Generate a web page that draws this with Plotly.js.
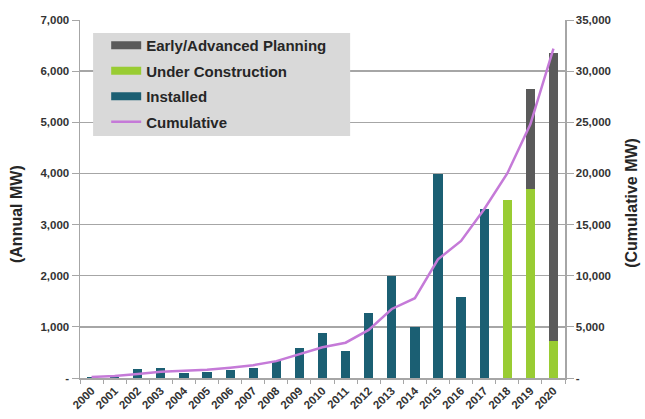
<!DOCTYPE html>
<html>
<head>
<meta charset="utf-8">
<script src="https://cdn.plot.ly/plotly-3.0.1.min.js"></script>
<style>html,body{margin:0;padding:0;background:#fff;}#chart{width:645px;height:419px;}</style>
</head>
<body>
<div id="chart"></div>
<script>
var years = ['2000','2001','2002','2003','2004','2005','2006','2007','2008','2009','2010','2011','2012','2013','2014','2015','2016','2017','2018','2019','2020'];
var installed = [25, 10, 175, 190, 105, 120, 155, 200, 330, 580, 885, 525, 1275, 2000, 990, 3990, 1590, 3310, null, null, null];
var underConstruction = [null, null, null, null, null, null, null, null, null, null, null, null, null, null, null, null, null, null, 3490, 3700, 730];
var planning = [null, null, null, null, null, null, null, null, null, null, null, null, null, null, null, null, null, null, null, 1960, 5620];
var cumulative = [100, 200, 400, 600, 700, 800, 1000, 1250, 1650, 2300, 3000, 3450, 4700, 6750, 7800, 11600, 13400, 16500, 20000, 24800, 32200];
var leftTicks = [0, 1000, 2000, 3000, 4000, 5000, 6000, 7000];
var leftTickText = ['-', '1,000', '2,000', '3,000', '4,000', '5,000', '6,000', '7,000'];
var rightTicks = [0, 5000, 10000, 15000, 20000, 25000, 30000, 35000];
var rightTickText = ['-', '5,000', '10,000', '15,000', '20,000', '25,000', '30,000', '35,000'];

var cInstalled = '#1b5f73', cConstr = '#99cc33', cPlan = '#5a5a5a', cCum = '#c57ad8';
var font = 'Liberation Sans, Arial, sans-serif';

var traces = [
  {type:'bar', x:years, y:installed, name:'Installed', marker:{color:cInstalled}, showlegend:false},
  {type:'bar', x:years, y:underConstruction, name:'Under Construction', marker:{color:cConstr}, showlegend:false},
  {type:'bar', x:years, y:planning, name:'Early/Advanced Planning', marker:{color:cPlan}, showlegend:false},
  {type:'scatter', mode:'lines', x:years, y:cumulative, yaxis:'y2', name:'Cumulative', line:{color:cCum, width:2.5}, legendrank:4, legendgroup:'d'},
  {type:'scatter', mode:'lines', x:[null], y:[null], name:'Early/Advanced Planning', line:{color:cPlan, width:8}, legendrank:1, legendgroup:'a'},
  {type:'scatter', mode:'lines', x:[null], y:[null], name:'Under Construction', line:{color:cConstr, width:8}, legendrank:2, legendgroup:'b'},
  {type:'scatter', mode:'lines', x:[null], y:[null], name:'Installed', line:{color:cInstalled, width:8}, legendrank:3, legendgroup:'c'}
];

var titleFont = {family:font, size:16, color:'#262626', weight:'bold'};
var layout = {
  width:645, height:419,
  margin:{l:80, r:80, t:20, b:41},
  paper_bgcolor:'#ffffff', plot_bgcolor:'#ffffff',
  barmode:'stack', bargap:0.6,
  font:{family:font, color:'#333333'},
  showlegend:true,
  legend:{x:0.054, y:0.975, xanchor:'left', yanchor:'top', bgcolor:'rgba(0,0,0,0)',
    font:{family:font, size:15, color:'#262626', weight:'bold'}, traceorder:'grouped', tracegroupgap:3},
  xaxis:{type:'category', tickangle:-45, tickfont:{family:font, size:11.5, color:'#333333', weight:'bold'},
    showline:true, linecolor:'#a6a6a6', linewidth:1.5, ticks:'outside', tickson:'boundaries', ticklen:4, tickcolor:'#a6a6a6',
    showgrid:false, automargin:false},
  yaxis:{range:[0,7000], tickvals:leftTicks, ticktext:leftTickText,
    tickfont:{family:font, size:11.5, color:'#333333', weight:'bold'},
    showline:true, linecolor:'#a6a6a6', linewidth:1.5, ticks:'outside', ticklen:7, tickcolor:'#a6a6a6',
    showgrid:true, gridcolor:'#a6a6a6', gridwidth:1.5, zeroline:false, automargin:false},
  yaxis2:{range:[0,35000], overlaying:'y', side:'right', tickvals:rightTicks, ticktext:rightTickText,
    tickfont:{family:font, size:11.5, color:'#333333', weight:'bold'},
    showline:true, linecolor:'#a6a6a6', linewidth:1.5, ticks:'outside', ticklen:7, tickcolor:'#a6a6a6',
    showgrid:false, zeroline:false, automargin:false},
  annotations:[
    {text:'(Annual MW)', xref:'paper', yref:'paper', x:-0.132, y:0.458, textangle:-90, showarrow:false, font:titleFont, xanchor:'center', yanchor:'middle'},
    {text:'(Cumulative MW)', xref:'paper', yref:'paper', x:1.138, y:0.489, textangle:-90, showarrow:false, font:titleFont, xanchor:'center', yanchor:'middle'}
  ],
  shapes:[{type:'rect', xref:'paper', yref:'paper', x0:0.027, x1:0.557, y0:0.676, y1:0.964,
    fillcolor:'#d9d9d9', line:{width:0}, layer:'above'}]
};

Plotly.newPlot('chart', traces, layout, {displayModeBar:false, staticPlot:true});
</script>
</body>
</html>
